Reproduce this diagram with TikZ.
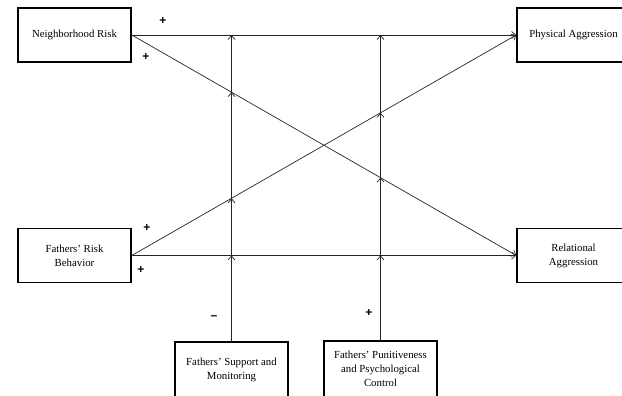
\documentclass[tikz,border=0pt]{standalone}
\usepackage{fontspec}
\setmainfont{Liberation Serif}
\newfontfamily\signfont{Liberation Sans}
\usetikzlibrary{arrows.meta}
\begin{document}
\begin{tikzpicture}[x=1pt,y=-1pt,
  box/.style={draw,line width=1.6pt,minimum width=113pt,minimum height=54pt,
    inner sep=2pt,align=center,font=\fontsize{10.8}{14}\selectfont},
  path/.style={line width=0.7pt,draw=black!85,-{Straight Barb[length=4pt,width=7pt]}},
  sign/.style={font=\signfont\bfseries\fontsize{12}{12}\selectfont}]
  \useasboundingbox (0,0) rectangle (622,396);
  \clip (0,0) rectangle (622,396);
  % predictors, outcomes and moderators
  \node[box] (NR)  at (74.5,35)   {Neighborhood Risk};
  \node[box] (FRB) at (74.5,255.5) {Fathers' Risk\\Behavior};
  \node[box] (PA)  at (573.5,35)  {Physical Aggression};
  \node[box] (RA)  at (573.5,255.5) {Relational\\Aggression};
  \node[box,minimum height=56pt] (FSM) at (231.5,370) {Fathers' Support and\\Monitoring};
  \node[box,minimum height=56pt] (FPC) at (380.5,369) {Fathers' Punitiveness\\and Psychological\\Control};
  % main paths
  \draw[path] (NR.east) -- (PA.west);
  \draw[path] (NR.east) -- (RA.west);
  \draw[path] (FRB.east) -- (PA.west);
  \draw[path] (FRB.east) -- (RA.west);
  % points where the moderator lines meet the paths
  \coordinate (s1) at (FSM.north |- NR.east);
  \coordinate (s4) at (FSM.north |- FRB.east);
  \coordinate (s2) at (intersection of NR.east--RA.west and FSM.north--s1);
  \coordinate (s3) at (intersection of FRB.east--PA.west and FSM.north--s1);
  \coordinate (p1) at (FPC.north |- NR.east);
  \coordinate (p4) at (FPC.north |- FRB.east);
  \coordinate (p2) at (intersection of FRB.east--PA.west and FPC.north--p1);
  \coordinate (p3) at (intersection of NR.east--RA.west and FPC.north--p1);
  % moderator lines
  \draw[path] (FSM.north) -- (s4);
  \draw[path] (s4) -- (s3);
  \draw[path] (s3) -- (s2);
  \draw[path] (s2) -- (s1);
  \draw[path] (FPC.north) -- (p4);
  \draw[path] (p4) -- (p3);
  \draw[path] (p3) -- (p2);
  \draw[path] (p2) -- (p1);
  % signs
  \node[sign] (g1) at (163,21) {+};
  \node[sign] (g2) at (146,57) {+};
  \node[sign] (g3) at (147,228) {+};
  \node[sign] (g4) at (141,270) {+};
  \node[sign] (g5) at (214,318) {–};
  \node[sign] (g6) at (369,313) {+};
\end{tikzpicture}
\end{document}
